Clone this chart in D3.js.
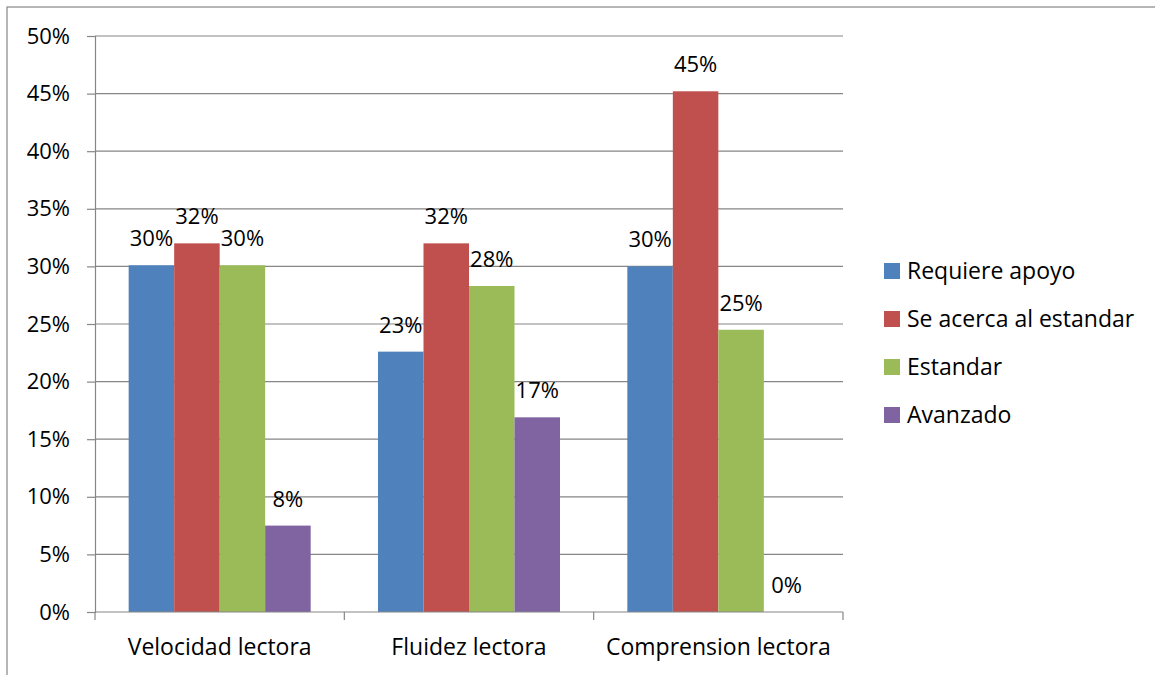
<!DOCTYPE html>
<html>
<head>
<meta charset="utf-8">
<title>Lectura</title>
<script src="https://cdn.jsdelivr.net/npm/d3@7"></script>
<style>
  body { margin: 0; background: #fff; }
  text { font-family: "Open Sans", sans-serif; fill: #000; }
  .grid line { stroke: #868686; stroke-width: 1.2; }
</style>
</head>
<body>
<svg></svg>
<script>
// data
var categories = ["Velocidad lectora", "Fluidez lectora", "Comprension lectora"];
var series = ["Requiere apoyo", "Se acerca al estandar", "Estandar", "Avanzado"];
var colors = ["#4F81BD", "#C0504D", "#9BBB59", "#8064A2"];
var values = [
  [0.301, 0.320, 0.301, 0.075],   // Velocidad
  [0.226, 0.320, 0.283, 0.169],   // Fluidez
  [0.300, 0.452, 0.245, 0.000]    // Comprension
];
var yTicks = [0, 0.05, 0.1, 0.15, 0.2, 0.25, 0.3, 0.35, 0.4, 0.45, 0.5];

var width = 1155, height = 675;
var plot = { left: 95, right: 843, top: 36, bottom: 612 };
var numSize = 22, wordSize = 23;

var svg = d3.select("svg").attr("width", width).attr("height", height);

// chart frame
svg.append("rect")
  .attr("x", 7).attr("y", 7)
  .attr("width", width + 20).attr("height", height + 20)
  .attr("fill", "none").attr("stroke", "#868686").attr("stroke-width", 1.2);

var y = d3.scaleLinear().domain([0, 0.5]).range([plot.bottom, plot.top]);
var x0 = d3.scaleBand().domain(categories).range([plot.left, plot.right]);
var bw = x0.bandwidth();
var x1 = d3.scaleBand().domain(series).range([bw * 0.135, bw * 0.865]);
var pct = d3.format(".0%");

// gridlines
var grid = svg.append("g").attr("class", "grid");
grid.selectAll("line")
  .data(yTicks.filter(function(d) { return d > 0; }))
  .enter().append("line")
    .attr("x1", plot.left).attr("x2", plot.right)
    .attr("y1", function(d) { return y(d); })
    .attr("y2", function(d) { return y(d); });

// y axis
var yAxis = svg.append("g")
  .attr("transform", "translate(" + plot.left + ",0)")
  .call(d3.axisLeft(y).tickValues(yTicks).tickFormat(pct).tickSize(8).tickPadding(17));
yAxis.selectAll("line, path").attr("stroke", "#868686").attr("stroke-width", 1.2);
yAxis.selectAll("text")
  .style("font-family", "'Open Sans', sans-serif")
  .attr("font-size", numSize).attr("fill", "#000");

// bars
var groups = svg.append("g").selectAll("g")
  .data(categories)
  .enter().append("g")
    .attr("transform", function(d) { return "translate(" + x0(d) + ",0)"; });

groups.selectAll("rect")
  .data(function(d, i) {
    return series.map(function(s, j) { return { s: s, j: j, v: values[i][j] }; });
  })
  .enter().append("rect")
    .attr("x", function(d) { return x1(d.s); })
    .attr("width", x1.bandwidth())
    .attr("y", function(d) { return y(d.v); })
    .attr("height", function(d) { return plot.bottom - y(d.v); })
    .attr("fill", function(d) { return colors[d.j]; });

// value labels
groups.selectAll("text")
  .data(function(d, i) {
    return series.map(function(s, j) { return { s: s, j: j, v: values[i][j] }; });
  })
  .enter().append("text")
    .attr("x", function(d) { return x1(d.s) + x1.bandwidth() / 2; })
    .attr("y", function(d) { return y(d.v) - 19; })
    .attr("text-anchor", "middle")
    .attr("font-size", numSize)
    .text(function(d) { return pct(d.v); });

// x axis
var xAxis = svg.append("g")
  .attr("transform", "translate(0," + plot.bottom + ")");
xAxis.append("line")
  .attr("x1", plot.left).attr("x2", plot.right)
  .attr("stroke", "#868686").attr("stroke-width", 1.2);
xAxis.selectAll(".tick")
  .data(categories.map(function(c) { return x0(c); }).concat([plot.right]))
  .enter().append("line")
    .attr("x1", function(d) { return d; }).attr("x2", function(d) { return d; })
    .attr("y1", 0).attr("y2", 8)
    .attr("stroke", "#868686").attr("stroke-width", 1.2);
xAxis.selectAll("text")
  .data(categories)
  .enter().append("text")
    .attr("x", function(d) { return x0(d) + bw / 2; })
    .attr("y", 43)
    .attr("text-anchor", "middle")
    .attr("font-size", wordSize)
    .text(function(d) { return d; });

// legend
var legend = svg.append("g").selectAll("g")
  .data(series)
  .enter().append("g")
    .attr("transform", function(d, i) { return "translate(884," + (271 + i * 48) + ")"; });
legend.append("rect")
  .attr("x", 0).attr("y", -8).attr("width", 16).attr("height", 16)
  .attr("fill", function(d, i) { return colors[i]; });
legend.append("text")
  .attr("x", 23).attr("y", 0).attr("dy", "0.35em")
  .attr("font-size", wordSize)
  .text(function(d) { return d; });
</script>
</body>
</html>
